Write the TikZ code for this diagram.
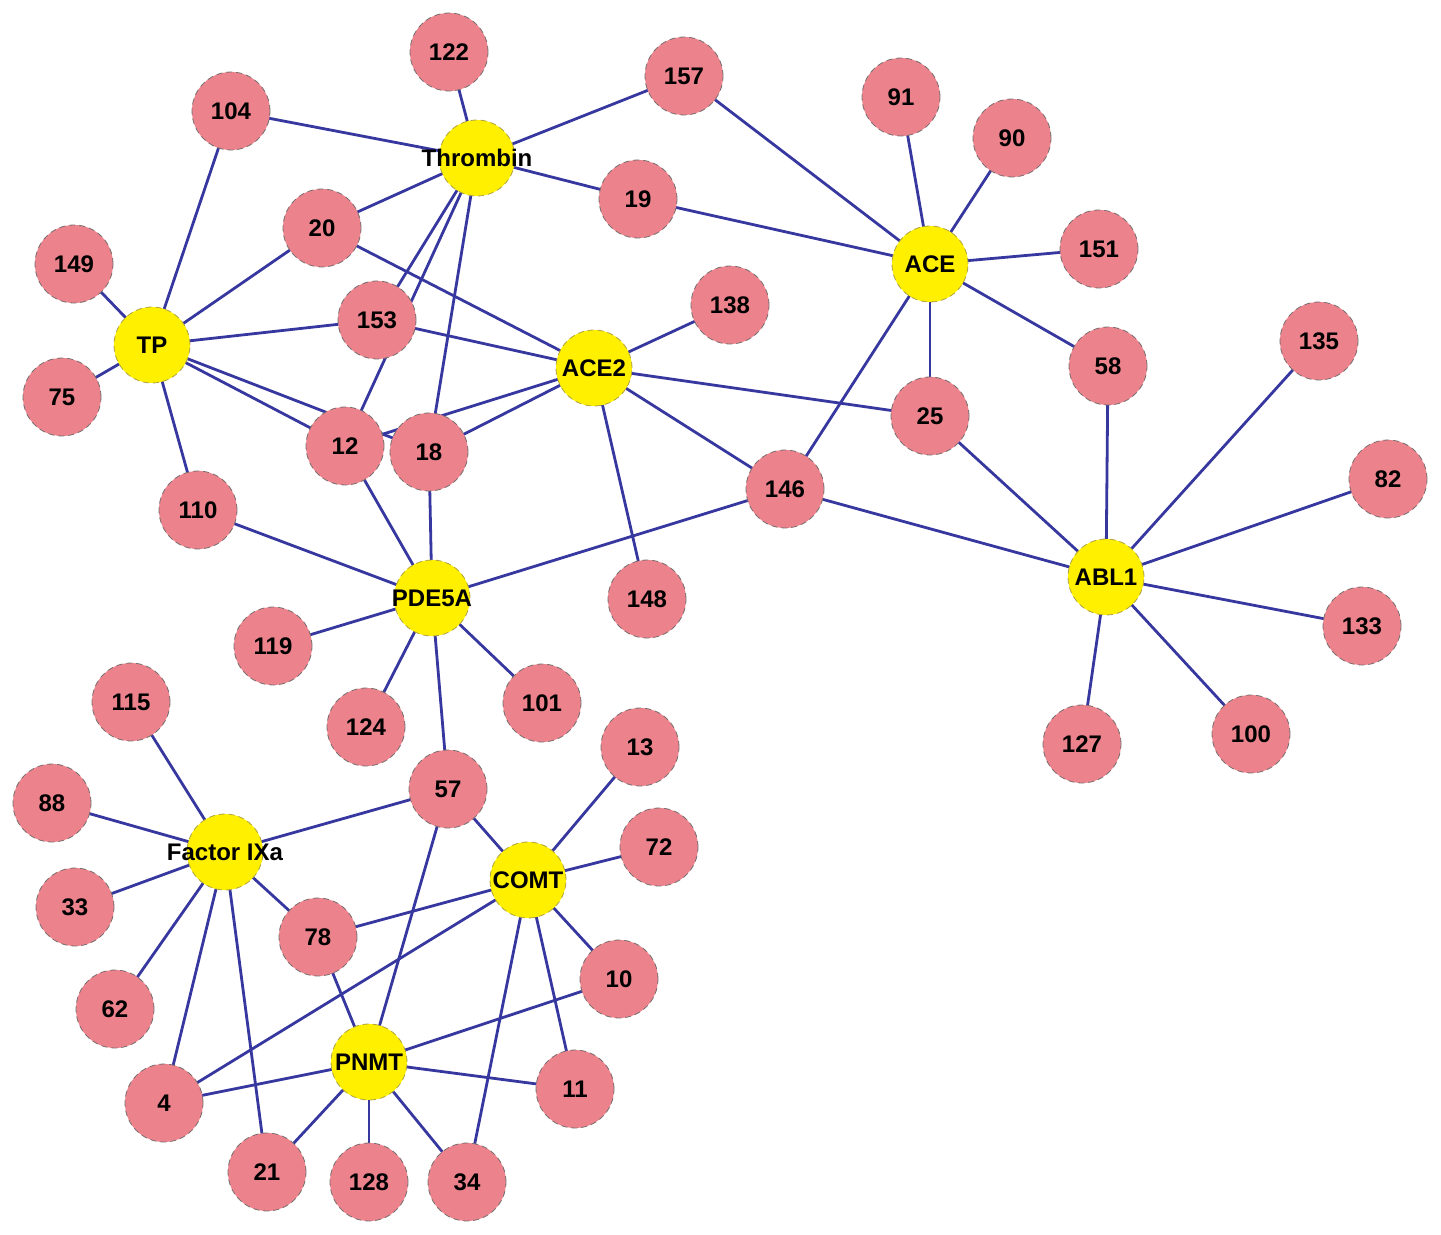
\documentclass[tikz,border=0pt]{standalone}
\usepackage{fontspec}
\setmainfont{Liberation Sans}
\usetikzlibrary{backgrounds}
\definecolor{pinkfill}{RGB}{236,130,140}
\definecolor{yelfill}{RGB}{255,240,0}
\definecolor{edgeblue}{RGB}{55,55,160}
\definecolor{rimgray}{RGB}{120,110,110}
\tikzset{
  pnode/.style={circle, fill=pinkfill, draw=rimgray, densely dashed, line width=0.4pt,
    minimum size=39pt, inner sep=0pt, font=\fontsize{12}{14}\selectfont\bfseries},
  tnode/.style={circle, fill=yelfill, draw=rimgray!60!yelfill, densely dashed, line width=0.4pt,
    minimum size=38pt, inner sep=0pt, label={[font=\fontsize{12}{14}\selectfont\bfseries, inner sep=0pt]center:#1}},
  link/.style={draw=edgeblue, line width=1.4pt}
}
\begin{document}
\begin{tikzpicture}[x=0.5pt, y=-0.5pt]
\useasboundingbox (0,0) rectangle (1441,1235);
% targets
\node[tnode=Thrombin] (thr) at (477,158) {};
\node[tnode=TP] (tp) at (152,345) {};
\node[tnode=ACE2] (ace2) at (594,368) {};
\node[tnode=ACE] (ace) at (930,264) {};
\node[tnode=PDE5A] (pde) at (432,598) {};
\node[tnode=ABL1] (abl) at (1106,577) {};
\node[tnode=Factor IXa] (fix) at (225,852) {};
\node[tnode=COMT] (comt) at (528,880) {};
\node[tnode=PNMT] (pnmt) at (369,1062) {};
% compounds
\node[pnode] (n122) at (449,52) {122};
\node[pnode] (n157) at (684,76) {157};
\node[pnode] (n104) at (231,111) {104};
\node[pnode] (n91) at (901,97) {91};
\node[pnode] (n90) at (1012,138) {90};
\node[pnode] (n19) at (638,199) {19};
\node[pnode] (n20) at (322,228) {20};
\node[pnode] (n149) at (74,264) {149};
\node[pnode] (n151) at (1099,249) {151};
\node[pnode] (n153) at (377,320) {153};
\node[pnode] (n138) at (730,305) {138};
\node[pnode] (n135) at (1319,341) {135};
\node[pnode] (n58) at (1108,366) {58};
\node[pnode] (n75) at (62,397) {75};
\node[pnode] (n25) at (930,416) {25};
\node[pnode] (n12) at (345,446) {12};
\node[pnode] (n18) at (429,452) {18};
\node[pnode] (n146) at (785,489) {146};
\node[pnode] (n82) at (1388,479) {82};
\node[pnode] (n110) at (198,510) {110};
\node[pnode] (n148) at (647,599) {148};
\node[pnode] (n133) at (1362,626) {133};
\node[pnode] (n119) at (273,646) {119};
\node[pnode] (n115) at (131,702) {115};
\node[pnode] (n101) at (542,703) {101};
\node[pnode] (n124) at (366,727) {124};
\node[pnode] (n127) at (1082,744) {127};
\node[pnode] (n100) at (1251,734) {100};
\node[pnode] (n13) at (640,747) {13};
\node[pnode] (n57) at (448,789) {57};
\node[pnode] (n88) at (52,803) {88};
\node[pnode] (n72) at (659,847) {72};
\node[pnode] (n33) at (75,907) {33};
\node[pnode] (n78) at (318,937) {78};
\node[pnode] (n10) at (619,979) {10};
\node[pnode] (n62) at (115,1009) {62};
\node[pnode] (n11) at (575,1089) {11};
\node[pnode] (n4) at (164,1103) {4};
\node[pnode] (n21) at (267,1172) {21};
\node[pnode] (n128) at (369,1182) {128};
\node[pnode] (n34) at (467,1182) {34};
\begin{scope}[on background layer]
  \foreach \a/\b in {
    thr/n122, thr/n157, thr/n104, thr/n19, thr/n20, thr/n153, thr/n12, thr/n18,
    tp/n104, tp/n149, tp/n75, tp/n20, tp/n153, tp/n12, tp/n18, tp/n110,
    ace2/n20, ace2/n153, ace2/n138, ace2/n12, ace2/n18, ace2/n25, ace2/n146, ace2/n148,
    ace/n157, ace/n91, ace/n90, ace/n19, ace/n151, ace/n58, ace/n25, ace/n146,
    pde/n110, pde/n12, pde/n18, pde/n146, pde/n119, pde/n124, pde/n101, pde/n57,
    abl/n58, abl/n135, abl/n82, abl/n133, abl/n100, abl/n127, abl/n25, abl/n146,
    fix/n115, fix/n88, fix/n33, fix/n62, fix/n4, fix/n21, fix/n78, fix/n57,
    comt/n57, comt/n13, comt/n72, comt/n10, comt/n11, comt/n34, comt/n78, comt/n4,
    pnmt/n78, pnmt/n57, pnmt/n10, pnmt/n11, pnmt/n34, pnmt/n128, pnmt/n21, pnmt/n4}
    \draw[link] (\a.center) -- (\b.center);
\end{scope}
\end{tikzpicture}
\end{document}
